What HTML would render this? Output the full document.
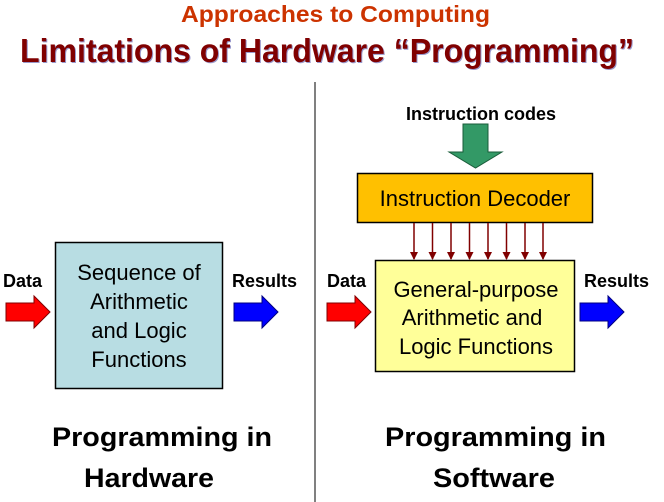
<!DOCTYPE html>
<html><head><style>html,body{margin:0;padding:0;background:#fff}svg{display:block}</style></head>
<body>
<svg width="664" height="502" viewBox="0 0 664 502" xmlns="http://www.w3.org/2000/svg" font-family="'Liberation Sans', sans-serif">
<defs>
<marker id="ah" markerWidth="8" markerHeight="8" refX="7" refY="4" orient="auto" markerUnits="userSpaceOnUse"><path d="M0,0 L8,4 L0,8 z" fill="#800000"/></marker>
</defs>
<text x="181" y="22" font-size="23" font-weight="bold" fill="#cc3300" textLength="309" lengthAdjust="spacingAndGlyphs">Approaches to Computing</text>
<text x="21" y="63" font-size="33" font-weight="bold" fill="#9999cc" textLength="614" lengthAdjust="spacingAndGlyphs">Limitations of Hardware “Programming”</text>
<text x="20" y="62" font-size="33" font-weight="bold" fill="#800000" textLength="614" lengthAdjust="spacingAndGlyphs">Limitations of Hardware “Programming”</text>
<line x1="315" y1="82" x2="315" y2="502" stroke="#808080" stroke-width="2"/>
<!-- left -->
<text x="3" y="287" font-size="18" font-weight="bold">Data</text>
<path d="M6,303 H34 V296 L50,312 L34,328 V321 H6 Z" fill="#ff0000" stroke="#800000" stroke-width="1"/>
<rect x="55.5" y="242.5" width="167" height="146" fill="#b8dde3" stroke="#000" stroke-width="1.5"/>
<g font-size="22" text-anchor="middle"><text x="139" y="280">Sequence of</text><text x="139" y="309">Arithmetic</text><text x="139" y="338">and Logic</text><text x="139" y="367">Functions</text></g>
<text x="232" y="287" font-size="18" font-weight="bold">Results</text>
<path d="M234,303 H262 V296 L278,312 L262,328 V321 H234 Z" fill="#0000ff" stroke="#000080" stroke-width="1"/>
<text x="52" y="446" font-size="27" font-weight="bold" textLength="220" lengthAdjust="spacingAndGlyphs">Programming in</text>
<text x="84" y="487" font-size="27" font-weight="bold" textLength="130" lengthAdjust="spacingAndGlyphs">Hardware</text>
<!-- right -->
<text x="481" y="120" font-size="18" font-weight="bold" text-anchor="middle">Instruction codes</text>
<path d="M463,124 H488 V152 H502 L475.5,168 L449,152 H463 Z" fill="#339966" stroke="#1a5c3a" stroke-width="1"/>
<rect x="357.5" y="173.5" width="235" height="49" fill="#ffc000" stroke="#000" stroke-width="1.5"/>
<text x="475" y="206" font-size="22" text-anchor="middle">Instruction Decoder</text>
<g stroke="#800000" stroke-width="1.5" marker-end="url(#ah)">
<line x1="414" y1="223" x2="414" y2="259"/><line x1="432.5" y1="223" x2="432.5" y2="259"/><line x1="451" y1="223" x2="451" y2="259"/><line x1="469.5" y1="223" x2="469.5" y2="259"/><line x1="488" y1="223" x2="488" y2="259"/><line x1="506.5" y1="223" x2="506.5" y2="259"/><line x1="525" y1="223" x2="525" y2="259"/><line x1="543" y1="223" x2="543" y2="259"/>
</g>
<rect x="375.5" y="260.5" width="199" height="111" fill="#ffff99" stroke="#000" stroke-width="1.5"/>
<g font-size="22" text-anchor="middle"><text x="476" y="297">General-purpose</text><text x="472" y="325">Arithmetic and</text><text x="476" y="354">Logic Functions</text></g>
<text x="327" y="287" font-size="18" font-weight="bold">Data</text>
<path d="M327,303 H355 V296 L371,312 L355,328 V321 H327 Z" fill="#ff0000" stroke="#800000" stroke-width="1"/>
<text x="584" y="287" font-size="18" font-weight="bold">Results</text>
<path d="M580,303 H608 V296 L624,312 L608,328 V321 H580 Z" fill="#0000ff" stroke="#000080" stroke-width="1"/>
<text x="385" y="446" font-size="27" font-weight="bold" textLength="221" lengthAdjust="spacingAndGlyphs">Programming in</text>
<text x="433" y="487" font-size="27" font-weight="bold" textLength="122" lengthAdjust="spacingAndGlyphs">Software</text>
</svg>
</body></html>
